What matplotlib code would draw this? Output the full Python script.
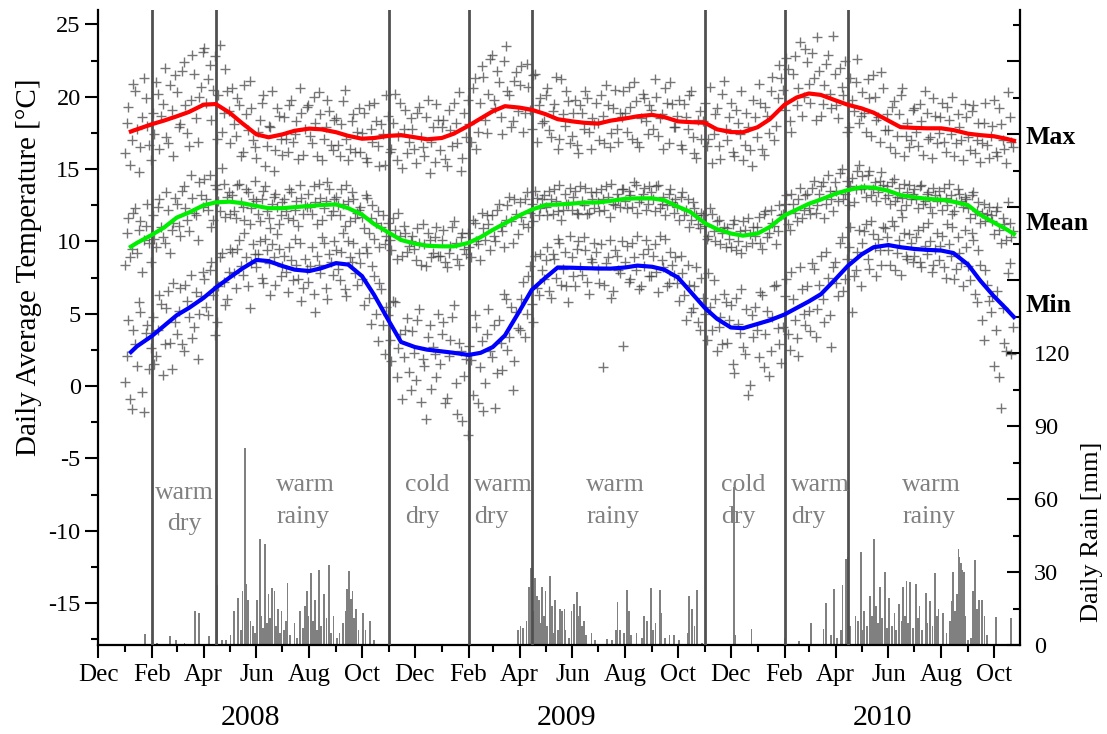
import matplotlib
matplotlib.use("Agg")
import matplotlib.pyplot as plt
import matplotlib.dates as mdates
import matplotlib.ticker as mticker
import matplotlib.transforms as mtrans
import pandas as pd

plt.rcParams['font.family'] = ['Liberation Serif', 'DejaVu Serif']
plt.rcParams['axes.unicode_minus'] = False

# ---------------- data ----------------
# smoothed curves (sampled on the 1st and 15th of each month)
curve_dates = (['2008-01-08'] +
               [d.strftime('%Y-%m-%d') for d in pd.date_range('2008-01-01', '2010-10-15', freq='SMS')[1:]] +
               ['2010-10-24'])
t_max_smooth = [17.6, 17.75, 18.1, 18.35, 18.65, 18.95, 19.45, 19.5, 18.9, 18.2, 17.4, 17.2,
                17.4, 17.65, 17.8, 17.75, 17.55, 17.3, 17.1, 17.15, 17.3, 17.35, 17.2, 17.06,
                17.15, 17.45, 18.0, 18.5, 19.0, 19.35, 19.25, 19.1, 18.8, 18.45, 18.3, 18.2,
                18.15, 18.35, 18.5, 18.65, 18.75, 18.6, 18.3, 18.25, 18.2, 17.75, 17.56, 17.55,
                17.9, 18.45, 19.45, 19.95, 20.23, 20.13, 19.75, 19.45, 19.2, 18.9, 18.35, 17.9,
                17.85, 17.82, 17.82, 17.7, 17.45, 17.35, 17.27, 17.1, 16.96]
t_mean_smooth = [9.64, 9.9, 10.45, 10.95, 11.65, 12.0, 12.5, 12.7, 12.75, 12.65, 12.45, 12.3,
                 12.3, 12.37, 12.45, 12.52, 12.56, 12.3, 11.85, 11.2, 10.6, 10.1, 9.85, 9.7,
                 9.66, 9.66, 9.9, 10.3, 10.8, 11.25, 11.8, 12.2, 12.52, 12.55, 12.62, 12.68,
                 12.7, 12.8, 12.95, 12.98, 12.98, 12.85, 12.4, 12.05, 11.26, 10.85, 10.55, 10.4,
                 10.55, 11.0, 11.8, 12.2, 12.6, 12.9, 13.3, 13.55, 13.75, 13.72, 13.5, 13.2,
                 13.05, 12.95, 12.88, 12.75, 12.5, 11.85, 11.3, 10.85, 10.52]
t_min_smooth = [2.35, 2.75, 3.45, 4.15, 4.9, 5.4, 6.1, 6.8, 7.5, 8.1, 8.72, 8.64,
                8.3, 8.05, 7.95, 8.15, 8.5, 8.4, 7.6, 6.3, 4.5, 3.05, 2.7, 2.52,
                2.4, 2.3, 2.15, 2.3, 2.7, 3.5, 5.2, 6.65, 7.5, 8.2, 8.18, 8.15,
                8.13, 8.12, 8.2, 8.33, 8.25, 8.05, 7.5, 6.55, 5.4, 4.65, 4.05, 4.0,
                4.3, 4.55, 4.95, 5.4, 5.85, 6.35, 7.4, 8.3, 9.1, 9.6, 9.75, 9.6,
                9.48, 9.42, 9.37, 9.2, 8.4, 7.3, 6.2, 5.35, 4.77]

# daily values, read every 4th day: set A starts 2008-01-01, set B starts 2008-01-03
start_a = '2008-01-01'
start_b = '2008-01-03'
daily_max_a = [16.1, 19.3, 17.0, 20.4, 14.8, 18.6, 19.9, 16.7,
               18.9, 21.0, 16.4, 19.5, 17.2, 20.8, 15.9,
               20.3, 18.1, 22.4, 17.5, 19.8, 21.6, 16.9, 20.7,
               23.4, 21.2, 18.4, 22.8, 20.1, 17.6, 21.9, 19.0,
               20.6, 17.3, 19.4, 16.2, 18.8, 21.1, 17.0,
               15.8, 18.4, 20.1, 16.6, 17.9, 14.9, 19.2, 17.1,
               18.6, 16.2, 19.8, 17.4, 15.7, 18.9, 17.8,
               19.4, 16.8, 18.2, 20.3, 15.6, 17.9, 19.0, 16.3,
               18.5, 15.9, 19.7, 17.1, 16.4, 18.8, 17.6,
               16.2, 18.9, 15.5, 17.8, 19.6, 16.6, 18.1, 15.3,
               18.7, 16.4, 20.2, 17.3, 15.1, 19.1, 16.9,
               17.8, 15.4, 19.3, 16.5, 18.6, 14.7, 17.9, 19.5,
               16.3, 18.4, 15.2, 17.7, 19.6, 16.8, 14.9, 18.9,
               19.8, 16.9, 21.3, 17.6, 22.1, 18.4, 20.2,
               22.9, 19.2, 21.0, 17.4, 23.5, 20.1, 18.3, 21.7,
               20.8, 17.6, 22.3, 19.1, 21.5, 16.9, 19.9,
               18.3, 20.6, 17.2, 19.5, 16.4, 21.2, 18.0, 19.7,
               17.3, 19.8, 16.1, 18.9, 20.4, 17.6, 18.5,
               19.6, 17.0, 18.7, 20.8, 16.5, 19.2, 17.8, 18.9,
               20.4, 17.6, 19.3, 21.0, 16.9, 18.5, 19.9, 17.4,
               19.1, 21.2, 17.3, 18.8, 20.6, 16.8, 19.5,
               17.9, 19.8, 16.4, 18.6, 20.1, 17.2, 15.8, 19.0,
               18.3, 16.6, 20.7, 17.4, 19.2, 15.7, 21.1,
               17.0, 19.6, 15.9, 18.2, 20.4, 16.7, 17.9, 15.2,
               18.6, 20.9, 16.4, 19.3, 17.5, 21.4, 18.0, 22.2,
               20.5, 22.7, 18.3, 21.6, 19.4, 23.8, 20.0,
               22.4, 19.6, 21.3, 24.1, 18.7, 20.8, 22.9, 19.2,
               21.6, 18.5, 20.7, 22.5, 17.9, 19.8, 21.0, 18.2,
               20.3, 17.6, 19.9, 21.5, 18.4, 16.9, 20.6,
               18.8, 16.5, 19.7, 17.3, 20.1, 15.9, 18.2, 17.0,
               19.2, 16.6, 18.3, 20.4, 17.1, 15.8, 18.7,
               17.5, 19.6, 16.2, 18.4, 20.0, 16.8, 17.9, 15.6,
               18.6, 16.3, 19.4, 17.0, 15.5, 18.2, 16.7,
               17.3, 19.8, 15.9, 18.1, 16.4, 20.3, 16.9]
daily_max_b = [18.2, 15.3, 20.9, 17.8, 16.5, 21.3, 18.0, 15.6,
               17.4, 20.2, 18.7, 22.0, 16.8, 19.1, 21.5,
               17.9, 21.8, 19.4, 16.6, 22.9, 18.5, 20.0, 23.1,
               19.6, 22.2, 20.5, 17.1, 23.6, 18.9, 20.4, 16.8,
               18.1, 19.9, 15.9, 20.8, 17.7, 19.2, 16.5,
               17.6, 19.6, 15.2, 18.0, 20.4, 16.3, 18.7, 16.0,
               17.1, 19.4, 16.9, 18.3, 20.6, 16.0, 19.3,
               17.3, 20.0, 15.9, 18.8, 17.1, 19.8, 16.7, 18.4,
               16.7, 18.1, 20.5, 15.6, 18.3, 16.2, 19.2,
               17.5, 15.8, 19.4, 16.9, 18.3, 15.2, 17.4, 20.1,
               16.2, 18.2, 15.6, 19.6, 17.8, 16.1, 18.5,
               16.4, 18.9, 17.2, 15.9, 19.8, 16.9, 15.5, 18.4,
               17.9, 15.7, 19.1, 16.6, 18.2, 20.3, 15.8, 17.2,
               18.1, 20.6, 16.4, 19.6, 21.4, 17.5, 22.6,
               19.8, 21.8, 18.6, 22.5, 20.4, 17.9, 21.1, 19.0,
               22.1, 18.9, 20.7, 17.8, 21.6, 19.4, 18.2,
               20.1, 17.7, 19.0, 21.4, 17.1, 18.8, 20.4, 16.8,
               18.9, 16.7, 19.4, 17.8, 19.9, 16.4, 18.1,
               18.2, 20.1, 16.8, 19.4, 17.5, 20.5, 16.9, 18.6,
               18.9, 20.7, 17.1, 19.7, 16.5, 20.2, 18.3, 19.4,
               17.8, 20.0, 18.5, 16.4, 19.6, 21.0, 17.9,
               18.7, 16.7, 19.5, 17.8, 20.4, 16.1, 18.4, 17.1,
               19.6, 17.1, 15.4, 18.8, 16.6, 20.2, 17.8,
               18.6, 16.2, 19.1, 17.4, 15.6, 18.9, 16.3, 19.8,
               17.2, 19.6, 16.0, 18.7, 20.4, 17.0, 19.9, 21.3,
               19.1, 21.9, 17.6, 22.8, 20.6, 18.7, 23.3,
               20.9, 23.0, 18.4, 21.8, 19.5, 22.3, 20.2, 24.2,
               19.4, 22.0, 20.1, 17.6, 21.3, 19.0, 22.6, 18.7,
               18.9, 21.2, 17.3, 20.0, 18.6, 21.7, 17.7,
               17.7, 19.3, 16.1, 18.8, 20.6, 17.3, 16.5, 19.1,
               17.6, 19.5, 16.0, 18.9, 17.2, 19.9, 16.8,
               18.6, 16.9, 19.3, 17.4, 15.9, 18.8, 17.0, 19.5,
               17.2, 19.0, 16.1, 18.2, 16.8, 19.6, 15.8,
               18.0, 16.2, 19.2, 17.0, 15.4, 18.6, 16.5]
daily_mean_a = [8.4, 11.6, 9.5, 12.3, 10.8, 7.9, 11.1, 9.9,
                11.8, 9.6, 12.9, 10.3, 13.4, 9.2, 11.3,
                12.6, 10.4, 13.8, 11.5, 14.6, 12.0, 10.1, 13.2,
                14.3, 12.2, 11.0, 13.9, 12.8, 15.1, 11.7, 13.4,
                13.2, 11.6, 14.0, 12.4, 13.6, 11.2, 12.9,
                12.8, 11.4, 13.5, 12.1, 10.9, 13.1, 12.4, 11.8,
                12.9, 11.6, 13.4, 12.2, 11.1, 13.0, 12.5,
                13.3, 11.9, 12.7, 14.0, 11.5, 12.8, 13.6, 12.1,
                13.1, 11.8, 12.6, 13.9, 11.4, 12.9, 12.0,
                12.4, 10.9, 13.0, 11.6, 10.2, 12.1, 11.0, 9.8,
                11.3, 9.4, 10.8, 12.0, 9.0, 10.6, 9.7,
                10.4, 8.7, 9.9, 11.2, 8.3, 10.1, 9.2, 11.0,
                9.0, 10.8, 8.2, 9.7, 11.4, 8.8, 10.3, 9.5,
                10.6, 8.9, 11.3, 9.8, 12.0, 10.1, 11.2,
                11.8, 10.0, 12.6, 10.7, 11.5, 13.1, 9.9, 11.9,
                12.7, 11.2, 13.4, 12.0, 11.4, 13.0, 12.3,
                13.2, 11.8, 12.9, 13.6, 12.1, 11.5, 13.3, 12.6,
                12.2, 13.5, 11.9, 12.8, 13.7, 12.0, 12.9,
                13.4, 12.1, 12.9, 13.8, 11.7, 12.6, 13.3, 12.4,
                13.6, 12.3, 13.2, 14.1, 12.0, 12.9, 13.7, 12.6,
                13.4, 12.1, 13.9, 12.6, 11.8, 13.3, 12.7,
                12.9, 11.5, 13.4, 12.2, 11.0, 12.7, 11.8, 10.9,
                11.8, 10.2, 12.3, 10.7, 11.4, 9.8, 11.0,
                10.9, 9.6, 11.5, 10.0, 9.2, 10.8, 11.6, 9.9,
                10.4, 11.7, 9.5, 12.1, 10.6, 11.3, 9.8, 12.5,
                11.9, 13.2, 10.8, 12.6, 11.4, 13.7, 12.2,
                13.3, 11.9, 14.2, 12.5, 13.8, 11.6, 14.6, 12.9,
                14.1, 12.8, 15.0, 13.3, 12.5, 14.4, 13.6, 15.3,
                14.5, 13.1, 14.9, 13.6, 12.8, 14.2, 13.9,
                13.8, 12.6, 14.3, 13.1, 12.2, 14.0, 13.4, 12.9,
                13.6, 12.3, 13.9, 12.8, 13.4, 12.0, 13.2,
                13.5, 12.2, 13.0, 14.0, 11.9, 12.7, 13.3, 12.4,
                12.9, 11.6, 13.4, 12.1, 11.3, 12.6, 11.9,
                11.8, 10.5, 12.4, 9.9, 11.2, 12.7, 10.3]
daily_mean_b = [10.6, 8.9, 12.0, 9.2, 11.4, 10.1, 12.6, 8.6,
                10.2, 12.4, 11.0, 9.9, 12.2, 10.8, 13.0,
                11.1, 13.5, 12.3, 10.7, 13.0, 11.8, 14.1, 12.4,
                12.9, 14.6, 11.5, 13.6, 12.1, 14.0, 13.1, 11.9,
                12.1, 13.9, 12.7, 11.5, 13.4, 12.3, 14.2,
                11.9, 12.9, 13.8, 11.6, 12.6, 13.3, 11.2, 12.7,
                12.1, 13.6, 11.5, 12.8, 13.9, 11.9, 12.4,
                12.4, 13.8, 11.2, 13.0, 12.3, 14.1, 11.8, 12.9,
                12.5, 13.6, 11.1, 12.8, 13.4, 11.6, 12.2,
                11.7, 13.2, 10.6, 12.5, 11.3, 9.6, 11.8, 10.4,
                10.1, 11.6, 8.8, 10.4, 11.1, 9.3, 10.0,
                9.5, 10.9, 8.4, 9.8, 10.6, 8.9, 10.3, 9.0,
                10.1, 8.6, 9.2, 11.0, 9.9, 8.4, 10.6, 9.1,
                9.6, 11.5, 10.0, 8.7, 10.9, 11.8, 9.4,
                10.4, 12.2, 11.1, 9.6, 12.5, 11.4, 12.9, 10.5,
                11.7, 12.9, 11.0, 12.6, 13.5, 11.8, 12.9,
                12.4, 13.5, 11.9, 12.8, 13.9, 12.2, 12.6, 13.7,
                13.1, 12.0, 13.8, 12.5, 11.9, 13.4, 12.3,
                12.7, 13.6, 12.2, 13.1, 14.0, 12.5, 12.9, 13.6,
                12.8, 13.5, 12.4, 13.9, 12.7, 13.3, 12.2, 13.8,
                12.9, 13.8, 12.3, 13.1, 12.5, 13.6, 12.0,
                12.4, 13.1, 11.8, 12.9, 11.5, 12.3, 11.2, 12.0,
                11.1, 10.4, 11.9, 10.0, 11.5, 10.6, 9.6,
                10.2, 11.2, 9.4, 10.7, 11.4, 9.7, 10.5, 11.0,
                11.0, 9.9, 11.9, 10.3, 12.2, 11.1, 10.7, 11.8,
                12.6, 11.2, 13.3, 12.0, 12.9, 11.6, 13.2,
                12.3, 13.7, 12.0, 13.3, 14.1, 12.6, 13.5, 12.1,
                13.5, 14.7, 12.9, 14.2, 13.8, 12.7, 14.9, 13.6,
                13.7, 14.6, 13.2, 14.1, 13.4, 14.8, 13.0,
                13.2, 14.1, 12.8, 13.7, 13.0, 12.5, 13.9, 13.3,
                12.9, 13.8, 12.6, 13.3, 12.4, 13.7, 12.8,
                12.9, 13.7, 12.5, 13.2, 12.1, 13.6, 12.8, 13.1,
                12.3, 13.2, 11.9, 12.7, 12.0, 11.4, 12.4,
                11.4, 12.1, 10.8, 11.6, 10.1, 11.3, 10.7]
daily_min_a = [0.3, 4.6, -1.6, 2.9, 5.8, -0.4, 3.7, 1.2,
               4.8, 2.1, 6.3, 0.8, 5.4, 3.0, 7.1,
               3.6, 6.8, 2.4, 5.9, 7.7, 4.1, 1.9, 6.2,
               7.4, 4.9, 8.6, 3.5, 6.9, 9.2, 5.6, 7.9,
               9.3, 6.8, 10.1, 7.7, 8.9, 5.4, 9.8,
               8.2, 10.0, 7.1, 9.4, 6.3, 8.9, 10.5, 7.6,
               9.0, 6.5, 8.7, 10.2, 7.4, 5.9, 8.8,
               7.2, 9.6, 5.1, 8.4, 10.3, 6.8, 9.1, 7.7,
               9.4, 7.3, 10.6, 6.2, 8.9, 9.9, 7.0,
               8.5, 5.6, 9.2, 4.3, 7.6, 3.1, 6.7, 2.2,
               4.9, 1.7, 5.8, 2.6, -0.9, 3.9, 1.0,
               3.8, 0.4, 5.3, 1.9, -2.3, 4.2, 2.7, 0.6,
               1.5, 4.4, -0.8, 3.2, 5.6, -1.9, 2.4, 0.7,
               -3.4, 1.8, 4.9, -1.2, 3.1, 0.2, 5.3,
               2.0, -1.5, 4.6, 1.1, 6.0, 3.4, -0.3, 5.1,
               3.9, 7.2, 5.0, 8.3, 4.4, 6.8, 9.1,
               7.4, 9.6, 6.1, 8.8, 10.2, 7.0, 9.3, 5.8,
               8.9, 6.9, 10.0, 7.7, 9.4, 6.4, 8.6,
               9.3, 7.1, 1.3, 8.5, 10.1, 6.6, 9.0, 7.8,
               2.8, 9.7, 7.4, 8.9, 10.4, 6.9, 8.3, 9.5,
               7.6, 9.8, 6.5, 8.7, 10.2, 7.1, 8.4,
               8.9, 5.9, 7.8, 4.6, 7.0, 5.4, 8.2, 3.9,
               6.1, 3.2, 5.5, 7.3, 2.4, 4.8, 6.4,
               3.0, 5.6, 0.9, 4.3, 6.7, 2.2, -0.6, 4.9,
               5.5, 2.0, 6.3, 3.6, 0.7, 4.8, 7.0, 2.9,
               4.1, 7.4, 2.5, 6.0, 3.3, 8.2, 5.0,
               6.9, 3.8, 8.1, 5.3, 9.0, 4.4, 7.5, 2.7,
               8.6, 6.2, 10.3, 7.4, 9.6, 5.1, 8.0, 10.8,
               9.9, 11.2, 8.1, 10.5, 7.6, 9.4, 11.0,
               10.3, 8.4, 11.1, 9.2, 7.7, 10.6, 8.8, 9.9,
               9.0, 10.8, 8.2, 9.7, 11.3, 7.9, 9.5,
               8.7, 10.4, 7.5, 9.8, 11.0, 8.1, 9.2, 6.9,
               9.6, 7.3, 10.1, 5.8, 8.4, 3.2, 7.0,
               5.1, 1.4, 6.6, -1.5, 3.0, 7.8, 2.2]
daily_min_b = [2.1, -0.9, 3.9, 1.4, 5.1, -1.8, 4.2, 2.6,
               1.5, 3.9, 5.7, 2.9, 6.6, 1.2, 4.4,
               5.2, 2.9, 7.0, 4.8, 3.3, 6.5, 5.0, 7.9,
               5.5, 8.0, 6.3, 4.4, 8.9, 7.2, 6.0, 9.5,
               7.8, 9.5, 8.3, 10.6, 6.9, 8.5, 9.1,
               9.1, 7.5, 10.2, 8.5, 9.8, 7.0, 9.5, 8.3,
               7.9, 9.6, 7.3, 8.4, 9.9, 6.8, 8.1,
               8.3, 6.4, 9.0, 7.8, 9.9, 6.0, 8.6, 10.0,
               8.1, 9.3, 6.7, 10.0, 8.6, 7.8, 9.2,
               7.4, 9.6, 6.1, 8.3, 5.0, 7.1, 4.2, 5.5,
               3.2, 5.9, 0.6, 3.6, 2.0, 4.7, -0.3,
               2.3, 4.6, -1.1, 1.4, 3.4, -0.2, 2.2, 5.0,
               3.6, -1.2, 2.1, 4.8, 0.2, 3.0, -2.4, 1.9,
               2.8, -0.6, 4.1, 1.3, -1.7, 3.6, 2.4,
               4.2, 0.9, 3.0, 6.4, 2.5, 5.5, 1.7, 4.0,
               6.0, 3.4, 7.6, 5.7, 9.0, 6.3, 8.0,
               8.7, 6.6, 9.1, 7.5, 9.9, 8.1, 6.9, 10.4,
               7.6, 9.5, 8.2, 10.3, 7.2, 8.8, 9.9,
               8.1, 9.8, 7.0, 8.9, 6.1, 9.4, 8.0, 10.0,
               8.6, 7.2, 9.9, 8.0, 6.7, 9.1, 10.1, 7.6,
               9.0, 7.9, 10.4, 8.2, 6.9, 9.3, 7.7,
               7.1, 9.0, 6.3, 8.4, 5.1, 6.9, 4.4, 7.5,
               5.0, 7.8, 3.9, 6.0, 4.1, 2.9, 5.8,
               4.6, 1.5, 6.1, 3.7, 2.7, 5.3, 0.1, 3.4,
               3.9, 6.5, 1.3, 5.2, 2.4, 6.9, 4.0, 1.6,
               6.2, 3.6, 7.9, 4.6, 2.1, 6.7, 4.2,
               5.2, 8.5, 3.4, 7.0, 6.0, 9.3, 4.9, 8.2,
               7.1, 9.9, 6.6, 8.8, 11.0, 7.6, 9.3, 6.9,
               10.7, 8.8, 11.4, 9.6, 10.2, 8.4, 10.9,
               9.4, 11.4, 8.0, 10.1, 11.7, 9.0, 10.5, 8.6,
               10.3, 8.6, 11.0, 9.1, 10.0, 8.4, 10.6,
               9.7, 8.2, 11.2, 9.0, 7.4, 10.3, 8.5, 10.8,
               8.3, 10.6, 6.4, 9.4, 4.6, 8.0, 5.9,
               6.2, 3.9, 0.6, 5.4, 2.4, 8.5, 4.1]

# daily rain (mm)
rain_dates = ['2008-01-24', '2008-02-07', '2008-02-22', '2008-02-29', '2008-03-10', '2008-03-22', '2008-03-27',
              '2008-04-07', '2008-04-17', '2008-04-22', '2008-04-27', '2008-05-02', '2008-05-06', '2008-05-11',
              '2008-05-14', '2008-05-16', '2008-05-19', '2008-05-20', '2008-05-22', '2008-05-25', '2008-05-28',
              '2008-05-30', '2008-06-02', '2008-06-05', '2008-06-07', '2008-06-09', '2008-06-11', '2008-06-13',
              '2008-06-15', '2008-06-17', '2008-06-19', '2008-06-22', '2008-06-24', '2008-06-26', '2008-06-28',
              '2008-06-30', '2008-07-03', '2008-07-05', '2008-07-07', '2008-07-10', '2008-07-15', '2008-07-18',
              '2008-07-21', '2008-07-25', '2008-07-27', '2008-07-29', '2008-07-31', '2008-08-03', '2008-08-05',
              '2008-08-08', '2008-08-10', '2008-08-12', '2008-08-15', '2008-08-18', '2008-08-21', '2008-08-24',
              '2008-08-26', '2008-08-29', '2008-09-02', '2008-09-05', '2008-09-09', '2008-09-12', '2008-09-14',
              '2008-09-16', '2008-09-18', '2008-09-20', '2008-09-22', '2008-09-24', '2008-09-27', '2008-10-02',
              '2008-10-05', '2008-10-10', '2008-10-15',
              '2009-03-30', '2009-04-02', '2009-04-05', '2009-04-09', '2009-04-12', '2009-04-14', '2009-04-17',
              '2009-04-19', '2009-04-21', '2009-04-23', '2009-04-25', '2009-04-27', '2009-04-29', '2009-05-01',
              '2009-05-03', '2009-05-06', '2009-05-08', '2009-05-10', '2009-05-12', '2009-05-15', '2009-05-18',
              '2009-05-20', '2009-05-23', '2009-05-24', '2009-05-28', '2009-05-31', '2009-06-03', '2009-06-06',
              '2009-06-08', '2009-06-10', '2009-06-12', '2009-06-14', '2009-06-17', '2009-06-23', '2009-06-27',
              '2009-07-11', '2009-07-17', '2009-07-21', '2009-07-23', '2009-07-26', '2009-07-31', '2009-08-03',
              '2009-08-05', '2009-08-08', '2009-08-14', '2009-08-20', '2009-08-23', '2009-08-26', '2009-08-31',
              '2009-09-02', '2009-09-05', '2009-09-10', '2009-09-12', '2009-09-16', '2009-09-21', '2009-09-26',
              '2009-10-02', '2009-10-12', '2009-10-14', '2009-10-17', '2009-10-20', '2009-10-23', '2009-10-29',
              '2009-12-04', '2009-12-05', '2009-12-06', '2009-12-25',
              '2010-02-01', '2010-02-18', '2010-03-04', '2010-03-18', '2010-03-21', '2010-03-27', '2010-03-30',
              '2010-04-03', '2010-04-07', '2010-04-09', '2010-04-13', '2010-04-15', '2010-04-18', '2010-04-24',
              '2010-04-27', '2010-04-30', '2010-05-02', '2010-05-04', '2010-05-07', '2010-05-11', '2010-05-13',
              '2010-05-15', '2010-05-18', '2010-05-20', '2010-05-22', '2010-05-25', '2010-05-28', '2010-05-30',
              '2010-06-02', '2010-06-05', '2010-06-08', '2010-06-10', '2010-06-13', '2010-06-16', '2010-06-18',
              '2010-06-20', '2010-06-22', '2010-06-24', '2010-06-26', '2010-06-29', '2010-07-03', '2010-07-05',
              '2010-07-07', '2010-07-10', '2010-07-14', '2010-07-16', '2010-07-19', '2010-07-22', '2010-07-25',
              '2010-07-27', '2010-07-29', '2010-08-03', '2010-08-07', '2010-08-11', '2010-08-13', '2010-08-15',
              '2010-08-17', '2010-08-19', '2010-08-21', '2010-08-22', '2010-08-24', '2010-08-25', '2010-08-27',
              '2010-08-29', '2010-09-01', '2010-09-04', '2010-09-07', '2010-09-09', '2010-09-11', '2010-09-14',
              '2010-09-17', '2010-09-20', '2010-09-23', '2010-10-03', '2010-10-21']
rain_mm = [4.5, 1.0, 3.7, 2.0, 1.0, 13.8, 13.1,
           3.9, 24.8, 2.0, 2.0, 4.0, 13.8, 19.3,
           6.0, 22.0, 81.0, 25.0, 18.6, 10.0, 8.0,
           5.0, 18.6, 43.4, 12.0, 7.0, 41.4, 9.0,
           21.0, 11.0, 23.4, 22.0, 8.0, 15.0, 5.0,
           14.0, 6.0, 10.0, 25.5, 4.0, 9.0, 3.0,
           14.0, 7.0, 16.0, 22.0, 12.0, 29.7, 10.0,
           18.6, 6.0, 31.0, 8.0, 21.0, 11.0, 32.7,
           5.0, 12.0, 3.0, 5.0, 9.0, 14.0, 23.0,
           30.3, 19.0, 22.0, 11.0, 15.0, 6.0, 13.0,
           6.0, 10.0, 2.0,
           6.0, 8.0, 7.0, 10.0, 24.0, 31.7, 14.0,
           27.6, 20.0, 18.6, 9.0, 24.0, 12.0, 22.0,
           8.0, 28.5, 16.0, 5.0, 18.6, 6.0, 14.8,
           14.0, 14.8, 6.0, 3.0, 14.0, 17.0, 21.7,
           12.0, 16.0, 8.0, 10.0, 4.0, 5.0, 2.0,
           2.5, 2.0, 6.0, 17.5, 6.0, 5.0, 22.5,
           14.0, 4.0, 5.0, 3.0, 12.0, 10.0, 23.4,
           6.0, 9.0, 22.8, 13.0, 3.0, 4.0, 4.0,
           2.0, 5.0, 20.0, 15.0, 8.0, 22.8, 1.0,
           3.0, 64.8, 4.0, 6.5,
           3.0, 1.5, 9.0, 6.5, 17.2, 4.0, 23.0,
           3.0, 6.0, 24.5, 35.2, 36.0, 8.0, 12.0,
           10.0, 38.2, 6.0, 14.0, 8.0, 20.0, 12.0,
           43.7, 16.0, 9.0, 24.0, 11.0, 29.9, 7.0,
           19.3, 8.0, 13.0, 6.0, 16.7, 10.0, 24.0,
           12.0, 26.2, 9.0, 26.0, 7.0, 25.2, 11.0,
           16.0, 6.0, 21.4, 9.0, 18.0, 8.0, 29.4,
           12.0, 15.0, 13.0, 5.0, 10.0, 18.0, 29.9,
           14.0, 21.0, 39.3, 36.0, 33.8, 31.0, 30.0,
           12.0, 2.0, 3.0, 22.0, 34.9, 15.0, 18.6,
           18.6, 12.0, 4.0, 11.4, 11.0]

# season boundaries and labels
season_bounds = ['2008-02-01', '2008-04-15', '2008-11-01', '2009-02-01',
                 '2009-04-15', '2009-11-01', '2010-02-01', '2010-04-15']
season_line1 = ['warm', 'warm', 'cold', 'warm', 'warm', 'cold', 'warm', 'warm']
season_line2 = ['dry', 'rainy', 'dry', 'dry', 'rainy', 'dry', 'dry', 'rainy']
years = ['2008', '2009', '2010']

# ---------------- layout ----------------
W, H = 1107, 734
fig = plt.figure(figsize=(W / 100, H / 100), dpi=100)
L, R, T, B = 98, 1020, 10, 645
ax = fig.add_axes([L / W, 1 - B / H, (R - L) / W, (B - T) / H])
ax2 = ax.twinx()
ax.set_zorder(ax2.get_zorder() + 1)
ax.patch.set_visible(False)

# rain bars
ax2.bar(pd.to_datetime(rain_dates), rain_mm, width=2.0, color='#808080', linewidth=0, zorder=1)
ax2.set_ylim(0, 261)

# scatter of daily values
for series, start in ((daily_max_a, start_a), (daily_max_b, start_b),
                      (daily_mean_a, start_a), (daily_mean_b, start_b),
                      (daily_min_a, start_a), (daily_min_b, start_b)):
    dts = pd.date_range(start, periods=len(series), freq='4D')
    ax.plot(dts, series, linestyle='none', marker='+', ms=7, mew=1.0,
            color='#3a3a3a', alpha=0.7, zorder=2)

# season boundaries
for d in season_bounds:
    ax.axvline(pd.Timestamp(d), color='#505050', lw=2.0, zorder=3)

# smoothed curves
cd = pd.to_datetime(curve_dates)
ax.plot(cd, t_max_smooth, color='#ff0000', lw=3.0, zorder=4)
ax.plot(cd, t_mean_smooth, color='#00ee00', lw=3.0, zorder=4)
ax.plot(cd, t_min_smooth, color='#0000ff', lw=3.0, zorder=4)

ax.set_xlim(pd.Timestamp('2007-12-01'), pd.Timestamp('2010-10-31'))
ax.set_ylim(-17.9, 26.0)

# season text
season_x = ['2008-03-10', '2008-06-24', '2008-11-20', '2009-02-07',
            '2009-06-17', '2009-11-20', '2010-02-09', '2010-06-17']
season_ha = ['center'] + ['left'] * 7
for i in range(len(season_line1)):
    y1, y2 = (-7.8, -9.97) if i == 0 else (-7.25, -9.45)
    ax.text(pd.Timestamp(season_x[i]), y1, season_line1[i], ha=season_ha[i], va='baseline',
            color='#808080', fontsize=18.5, zorder=5)
    ax.text(pd.Timestamp(season_x[i]), y2, season_line2[i], ha=season_ha[i], va='baseline',
            color='#808080', fontsize=18.5, zorder=5)

# axes styling
for s in ('top', 'right'):
    ax.spines[s].set_visible(False)
for s in ('top', 'left', 'bottom'):
    ax2.spines[s].set_visible(False)
for sp in (ax.spines['left'], ax.spines['bottom'], ax2.spines['right']):
    sp.set_linewidth(1.6)

ax.xaxis.set_major_locator(mdates.MonthLocator(bymonth=[12, 2, 4, 6, 8, 10]))
ax.xaxis.set_minor_locator(mdates.MonthLocator())
ax.xaxis.set_major_formatter(mdates.DateFormatter('%b'))
ax.yaxis.set_major_locator(mticker.MultipleLocator(5))
ax.yaxis.set_minor_locator(mticker.MultipleLocator(2.5))
ax.tick_params(axis='x', which='major', direction='out', length=9.5, width=1.5, labelsize=18, pad=4)
ax.tick_params(axis='x', which='minor', direction='out', length=5, width=1.5)
ax.tick_params(axis='y', which='major', direction='out', length=9.5, width=1.5, labelsize=17.5, pad=3)
ax.tick_params(axis='y', which='minor', direction='out', length=5, width=1.5)

ax2.yaxis.set_major_locator(mticker.FixedLocator(list(range(0, 241, 30))))
ax2.yaxis.set_minor_locator(mticker.FixedLocator(list(range(15, 256, 30))))
ax2.yaxis.set_major_formatter(mticker.FuncFormatter(lambda v, p: f'{int(v)}' if v <= 120 else ''))
ax2.tick_params(axis='y', which='major', direction='in', length=9.5, width=1.5, labelsize=17.5, pad=10)
ax2.tick_params(axis='y', which='minor', direction='in', length=5, width=1.5)

# year labels
trans = mtrans.blended_transform_factory(ax.transData, ax.transAxes)
for y in years:
    ax.text(pd.Timestamp(f'{y}-05-25'), -0.115, y, transform=trans, ha='center', va='center', fontsize=21.5)

# axis titles
fig.text(29 / W, 1 - 267 / H, 'Daily Average Temperature [°C]', rotation=90,
         ha='center', va='center', fontsize=21)
fig.text(1092 / W, 1 - 532 / H, 'Daily Rain [mm]', rotation=90,
         ha='center', va='center', fontsize=19)

# curve labels
for name, yb in (('Max', 144), ('Mean', 230), ('Min', 312)):
    fig.text(1026 / W, 1 - yb / H, name, ha='left', va='baseline', fontsize=18.5, fontweight='bold')

fig.savefig('out.png', dpi=100)
